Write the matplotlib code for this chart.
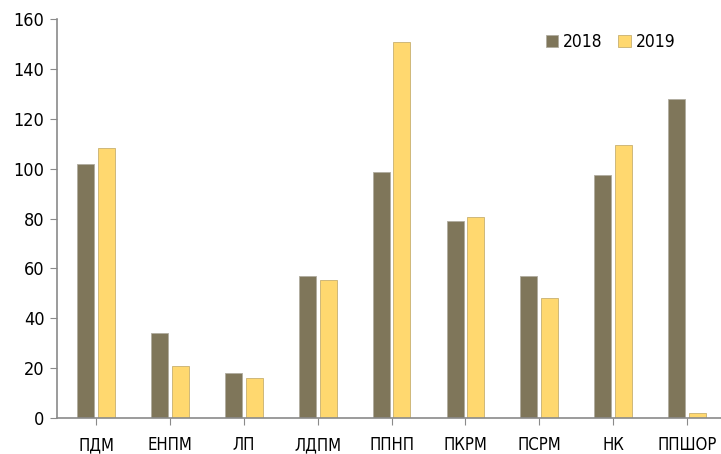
import numpy as np
import matplotlib.pyplot as plt

plt.rcParams['font.family'] = ['DejaVu Sans']
plt.rcParams['font.stretch'] = 'condensed'

categories = ['ПДМ', 'ЕНПМ', 'ЛП', 'ЛДПМ', 'ППНП', 'ПКРМ', 'ПСРМ', 'НК', 'ППШОР']
values_2018 = [102, 34, 18, 57, 98.5, 79, 57, 97.5, 128]
values_2019 = [108.5, 21, 16, 55.5, 151, 80.5, 48, 109.5, 2]

fig = plt.figure(figsize=(7.21, 4.54), dpi=100)
ax = fig.add_axes([0.079, 0.079, 0.921, 0.879])

x = np.arange(len(categories))
w = 0.23
ax.bar(x - 0.14, values_2018, w, color='#7f765a', edgecolor='#b0aca0', linewidth=0.6, label='2018')
ax.bar(x + 0.14, values_2019, w, color='#ffd86f', edgecolor='#c8b070', linewidth=0.6, label='2019')

ax.set_xlim(-0.53, 8.46)
ax.set_ylim(0, 160)
ax.set_yticks(range(0, 161, 20))
ax.set_xticks(x)
ax.set_xticklabels(categories)

for s in ['top', 'right']:
    ax.spines[s].set_visible(False)
for s in ['left', 'bottom']:
    ax.spines[s].set_color('#8a8a8a')
    ax.spines[s].set_linewidth(1.2)
ax.tick_params(axis='x', length=5, color='#8a8a8a', pad=8, labelsize=12)
ax.tick_params(axis='y', length=5, color='#8a8a8a', pad=4, labelsize=13)

ax.legend(loc='upper right', bbox_to_anchor=(0.955, 1.005), ncol=2, frameon=False,
          fontsize=12.5, handlelength=0.7, handleheight=0.7, handletextpad=0.3, columnspacing=0.9)

fig.savefig('out.png', dpi=100)
